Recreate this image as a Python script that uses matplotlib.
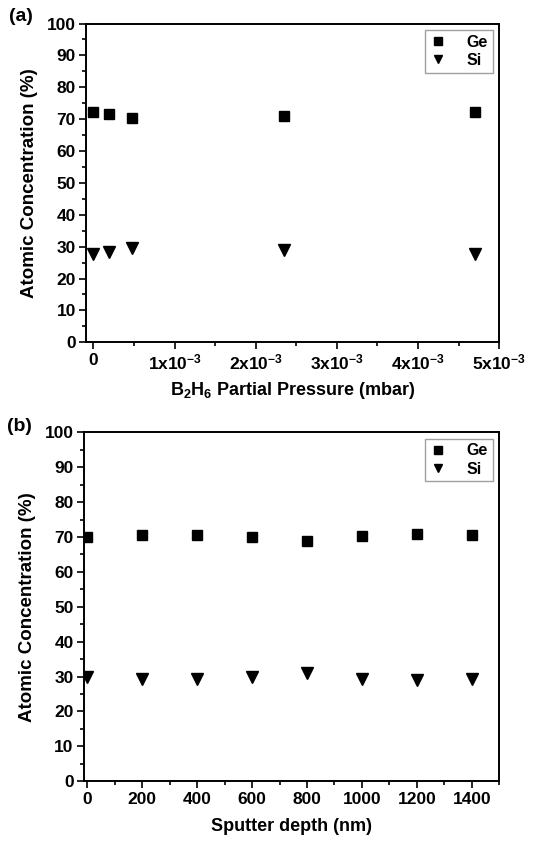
import numpy as np
import matplotlib.pyplot as plt
from matplotlib.ticker import MultipleLocator, FuncFormatter

plt.rcParams['font.family'] = ['Liberation Sans', 'DejaVu Sans']
plt.rcParams['font.weight'] = 'bold'
plt.rcParams['mathtext.fontset'] = 'custom'
plt.rcParams['mathtext.rm'] = 'Liberation Sans:bold'
plt.rcParams['mathtext.bf'] = 'Liberation Sans:bold'
plt.rcParams['mathtext.default'] = 'bf'

# (a) composition vs B2H6 partial pressure
pressure = [0.0, 0.19e-3, 0.47e-3, 2.35e-3, 4.70e-3]
ge_a = [72.1, 71.7, 70.4, 71.0, 72.3]
si_a = [27.8, 28.2, 29.6, 28.9, 27.6]

# (b) composition vs sputter depth
depth = [0, 200, 400, 600, 800, 1000, 1200, 1400]
ge_b = [70.0, 70.6, 70.6, 69.9, 68.8, 70.4, 70.8, 70.5]
si_b = [30.0, 29.2, 29.2, 29.9, 31.0, 29.4, 29.0, 29.2]

fig = plt.figure(figsize=(5.42, 8.41), dpi=100)
ax1 = fig.add_axes([0.159, 0.593, 0.762, 0.379])
ax2 = fig.add_axes([0.155, 0.071, 0.766, 0.415])


def style_axes(ax):
    for s in ax.spines.values():
        s.set_linewidth(1.4)
    ax.set_ylim(0, 100)
    ax.yaxis.set_major_locator(MultipleLocator(10))
    ax.yaxis.set_minor_locator(MultipleLocator(5))
    ax.tick_params(which='both', direction='out', top=False, right=False,
                   width=1.2, labelsize=12.5)
    ax.tick_params(which='major', length=5, pad=2.5)
    ax.tick_params(which='minor', length=3)
    ax.set_ylabel('Atomic Concentration (%)', fontsize=13.5, fontweight='bold',
                  labelpad=6)
    leg = ax.legend(loc='upper right', fontsize=11.5, frameon=True, fancybox=False,
                    handletextpad=1.3, borderpad=0.3, labelspacing=0.2,
                    handlelength=1.0, borderaxespad=0.4, markerscale=0.8)
    leg.get_frame().set_edgecolor('#888888')
    leg.get_frame().set_linewidth(1.0)


ax1.plot(pressure, ge_a, 's', color='black', markersize=7, label='Ge')
ax1.plot(pressure, si_a, 'v', color='black', markersize=8, label='Si')
ax1.set_xlim(-0.09e-3, 5e-3)
ax1.xaxis.set_major_locator(MultipleLocator(1e-3))
ax1.xaxis.set_minor_locator(MultipleLocator(0.5e-3))
ax1.xaxis.set_major_formatter(FuncFormatter(
    lambda v, p: '0' if abs(v) < 1e-9 else '%dx10$^{-3}$' % round(v * 1e3)))
ax1.set_xlabel('B$_2$H$_6$ Partial Pressure (mbar)', fontsize=13,
               fontweight='bold', labelpad=5)
style_axes(ax1)

ax2.plot(depth, ge_b, 's', color='black', markersize=7, label='Ge')
ax2.plot(depth, si_b, 'v', color='black', markersize=8, label='Si')
ax2.set_xlim(-12, 1500)
ax2.xaxis.set_major_locator(MultipleLocator(200))
ax2.xaxis.set_minor_locator(MultipleLocator(100))
ax2.set_xlabel('Sputter depth (nm)', fontsize=13, fontweight='bold', labelpad=8)
style_axes(ax2)

fig.text(0.017, 0.99, '(a)', fontsize=14, fontweight='bold', va='top')
fig.text(0.013, 0.503, '(b)', fontsize=14, fontweight='bold', va='top')

fig.savefig('out.png', dpi=100)
